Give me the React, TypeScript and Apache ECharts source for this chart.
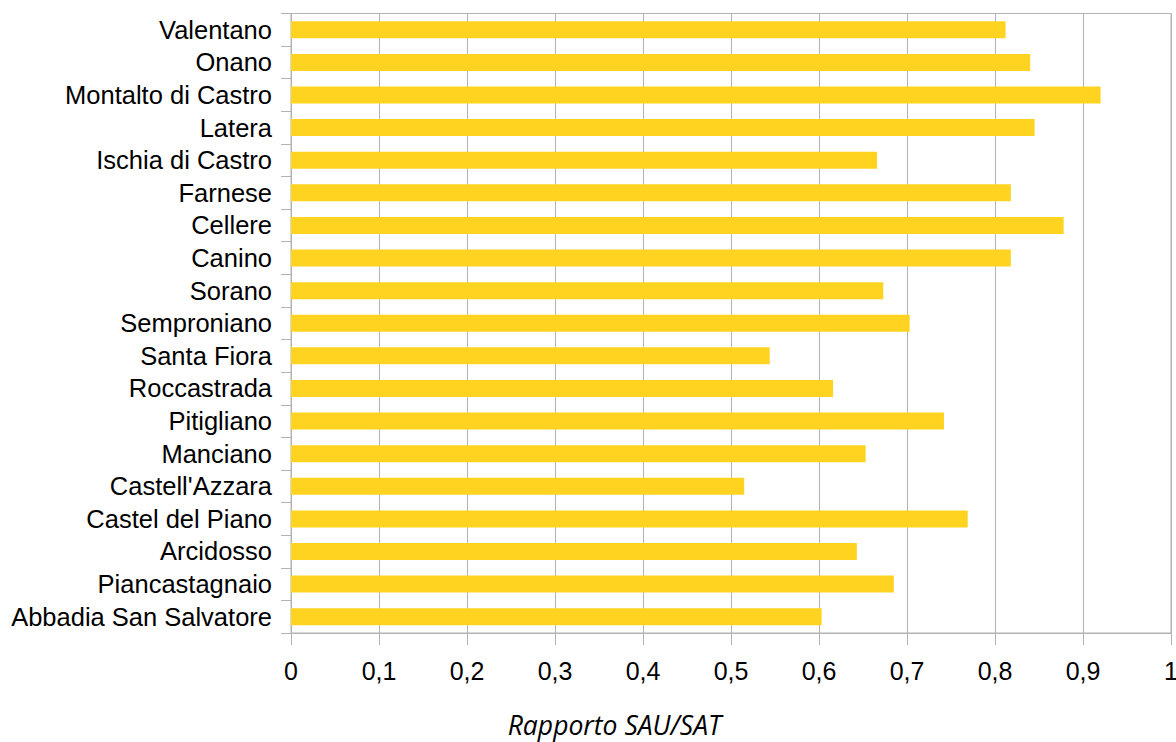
import React, { useEffect, useRef } from "react";
import * as echarts from "echarts";

const categories = [
  "Valentano",
  "Onano",
  "Montalto di Castro",
  "Latera",
  "Ischia di Castro",
  "Farnese",
  "Cellere",
  "Canino",
  "Sorano",
  "Semproniano",
  "Santa Fiora",
  "Roccastrada",
  "Pitigliano",
  "Manciano",
  "Castell'Azzara",
  "Castel del Piano",
  "Arcidosso",
  "Piancastagnaio",
  "Abbadia San Salvatore",
];

const sauSatRatio = [
  0.812, 0.84, 0.92, 0.845, 0.666, 0.818, 0.878, 0.818, 0.673, 0.703, 0.544,
  0.616, 0.742, 0.653, 0.515, 0.769, 0.643, 0.685, 0.603,
];

const axisTitle = "Rapporto SAU/SAT";

export default function App() {
  const ref = useRef<HTMLDivElement>(null);

  useEffect(() => {
    if (!ref.current) return;
    const chart = echarts.init(ref.current, null, { renderer: "svg" });
    const gray = "#b3b3b3";
    const font = "'Liberation Sans', Arial, sans-serif";
    chart.setOption({
      animation: false,
      backgroundColor: "#ffffff",
      grid: {
        left: 291,
        right: 5,
        top: 13.5,
        bottom: 109,
        show: true,
        borderColor: gray,
        borderWidth: 1,
        containLabel: false,
        outerBoundsMode: "none",
      },
      graphic: [
        {
          type: "text",
          x: 614.5,
          y: 725,
          style: {
            text: axisTitle,
            fontFamily: "'Open Sans', sans-serif",
            fontStyle: "italic",
            fontSize: 26.5,
            fill: "#000000",
            align: "center",
            verticalAlign: "middle",
          },
        },
      ],
      xAxis: {
        type: "value",
        min: 0,
        max: 1,
        interval: 0.1,
        axisLine: { show: true, lineStyle: { color: gray, width: 1 } },
        axisTick: { show: true, length: 12, lineStyle: { color: gray } },
        splitLine: { show: true, lineStyle: { color: gray, width: 1 } },
        axisLabel: {
          color: "#000000",
          fontFamily: font,
          fontSize: 25,
          margin: 25,
          formatter: (v: number) =>
            String(Math.round(v * 10) / 10).replace(".", ","),
        },
      },
      yAxis: {
        type: "category",
        data: categories,
        inverse: true,
        axisLine: { show: true, lineStyle: { color: gray, width: 1 } },
        axisTick: { show: true, length: 10, lineStyle: { color: gray } },
        splitLine: { show: false },
        axisLabel: {
          color: "#000000",
          fontFamily: font,
          fontSize: 25.5,
          margin: 19,
          interval: 0,
          hideOverlap: false,
        },
      },
      series: [
        {
          type: "bar",
          data: sauSatRatio,
          barWidth: 17,
          itemStyle: { color: "#ffd320" },
        },
      ],
    });
    return () => chart.dispose();
  }, []);

  return (
    <div
      ref={ref}
      style={{
        position: "fixed",
        left: 0,
        top: 0,
        width: 1176,
        height: 742,
      }}
    />
  );
}
